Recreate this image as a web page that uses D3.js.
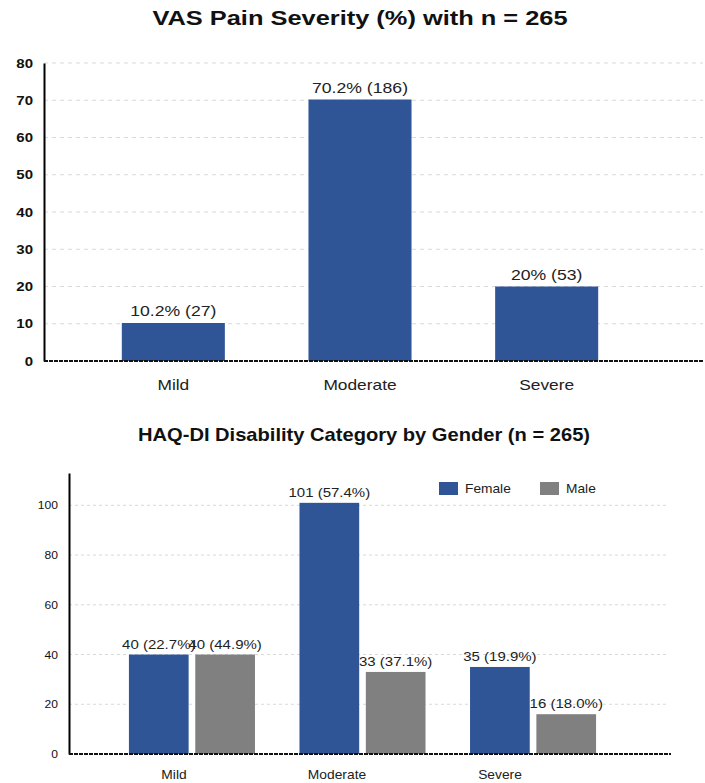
<!DOCTYPE html>
<html>
<head>
<meta charset="utf-8">
<script src="https://cdn.jsdelivr.net/npm/d3@7"></script>
<style>
  html, body { margin: 0; padding: 0; background: #fff; }
  svg { display: block; font-family: "Liberation Sans", Arial, Helvetica, sans-serif; }
</style>
</head>
<body>
<svg id="chart" width="705" height="783"></svg>
<script>
// ---- VAS pain severity (percent of n = 265) ----
const vasCategories = ["Mild", "Moderate", "Severe"];
const vasPercent = [10.2, 70.2, 20];
const vasCounts = [27, 186, 53];
const vasTicks = [0, 10, 20, 30, 40, 50, 60, 70, 80];

// ---- HAQ-DI disability category by gender ----
const haqCategories = ["Mild", "Moderate", "Severe"];
const haqGenders = ["Female", "Male"];
const haqFemale = [40, 101, 35];
const haqFemalePct = ["22.7%", "57.4%", "19.9%"];
const haqMale = [40, 33, 16];
const haqMalePct = ["44.9%", "37.1%", "18.0%"];
const haqTicks = [0, 20, 40, 60, 80, 100];
const haqMax = 113;

const BLUE = "#2f5597";
const GREY = "#808080";
const GRID = "#d9d9d9";

const svg = d3.select("#chart");

// Text in this layout is drawn slightly wide; sx widens glyphs about the anchor.
function label(g, x, y, text, opts) {
  const o = Object.assign({ size: 13, weight: "normal", anchor: "middle", sx: 1.2, fill: "#222" }, opts || {});
  return g.append("text")
    .attr("transform", `translate(${x},${y}) scale(${o.sx},1)`)
    .attr("text-anchor", o.anchor)
    .attr("font-size", o.size)
    .attr("font-weight", o.weight)
    .attr("fill", o.fill)
    .text(text);
}

// ================= Chart 1 =================
{
  const g = svg.append("g");
  const axisX = 44, right = 703;
  const y = d3.scaleLinear().domain([0, 80]).range([361, 63]);
  const x = d3.scaleBand().domain(vasCategories).range([80, 640])
    .paddingInner(0.448).paddingOuter(0.224);

  label(g, 360, 25, "VAS Pain Severity (%) with n = 265", { size: 20, weight: "bold", sx: 1.27, fill: "#111" });

  // gridlines
  g.selectAll("line.grid").data(vasTicks.filter(d => d > 0)).join("line")
    .attr("class", "grid")
    .attr("x1", axisX).attr("x2", right)
    .attr("y1", d => y(d)).attr("y2", d => y(d))
    .attr("stroke", GRID).attr("stroke-width", 1).attr("stroke-dasharray", "4,4");

  // bars
  g.selectAll("rect.bar").data(vasPercent).join("rect")
    .attr("class", "bar")
    .attr("x", (d, i) => x(vasCategories[i]))
    .attr("width", x.bandwidth())
    .attr("y", d => y(d))
    .attr("height", d => y(0) - y(d))
    .attr("fill", BLUE);

  // value labels
  vasPercent.forEach((d, i) => {
    label(g, x(vasCategories[i]) + x.bandwidth() / 2, y(d) - 7, `${d}% (${vasCounts[i]})`, { size: 14, sx: 1.26 });
  });

  // y axis
  const yAxis = d3.axisLeft(y).tickValues(vasTicks).tickSize(0).tickPadding(10);
  const ya = g.append("g").attr("transform", `translate(${axisX},0)`).call(yAxis);
  ya.select(".domain").attr("stroke", "#000").attr("stroke-width", 2);
  ya.selectAll(".tick text").each(function (d) {
    const ty = y(d);
    d3.select(this).remove();
    label(g, axisX - 11, ty + 4.5, d, { size: 12, weight: "bold", anchor: "end", sx: 1.25, fill: "#111" });
  });

  // baseline
  g.append("line").attr("x1", axisX).attr("x2", right)
    .attr("y1", y(0)).attr("y2", y(0))
    .attr("stroke", "#111").attr("stroke-width", 2).attr("stroke-dasharray", "4,1");

  // category labels
  vasCategories.forEach(c => {
    label(g, x(c) + x.bandwidth() / 2, 390, c, { size: 14, sx: 1.24 });
  });
}

// ================= Chart 2 =================
{
  const g = svg.append("g");
  const axisX = 69, right = 669;
  const y = d3.scaleLinear().domain([0, haqMax]).range([754, 473]);
  const x0 = d3.scaleBand().domain(haqCategories).range([106.75, 618.25])
    .paddingInner(0.261).paddingOuter(0.13);
  const x1 = d3.scaleBand().domain(haqGenders).range([0, x0.bandwidth()]).paddingInner(0.1);
  const color = d3.scaleOrdinal().domain(haqGenders).range([BLUE, GREY]);
  const xLabel = d3.scalePoint().domain(haqCategories).range([174, 500]);

  label(g, 364, 441, "HAQ-DI Disability Category by Gender (n = 265)", { size: 17.5, weight: "bold", sx: 1.15, fill: "#111" });

  g.selectAll("line.grid").data(haqTicks.filter(d => d > 0)).join("line")
    .attr("class", "grid")
    .attr("x1", axisX).attr("x2", right)
    .attr("y1", d => y(d)).attr("y2", d => y(d))
    .attr("stroke", GRID).attr("stroke-width", 1).attr("stroke-dasharray", "3,3");

  const rows = haqCategories.map((c, i) => ({
    cat: c,
    vals: [
      { gender: "Female", v: haqFemale[i], pct: haqFemalePct[i] },
      { gender: "Male", v: haqMale[i], pct: haqMalePct[i] }
    ]
  }));

  const grp = g.selectAll("g.cat").data(rows).join("g")
    .attr("class", "cat")
    .attr("transform", d => `translate(${x0(d.cat)},0)`);

  grp.selectAll("rect").data(d => d.vals).join("rect")
    .attr("x", d => x1(d.gender))
    .attr("width", x1.bandwidth())
    .attr("y", d => y(d.v))
    .attr("height", d => y(0) - y(d.v))
    .attr("fill", d => color(d.gender));

  rows.forEach(r => {
    r.vals.forEach(d => {
      label(g, x0(r.cat) + x1(d.gender) + x1.bandwidth() / 2, y(d.v) - 6, `${d.v} (${d.pct})`, { size: 12, sx: 1.25 });
    });
  });

  const yAxis = d3.axisLeft(y).tickValues(haqTicks).tickSize(0).tickPadding(10);
  const ya = g.append("g").attr("transform", `translate(${axisX},0)`).call(yAxis);
  ya.select(".domain").attr("stroke", "#000").attr("stroke-width", 2);
  ya.selectAll(".tick text").each(function (d) {
    const ty = y(d);
    d3.select(this).remove();
    label(g, axisX - 11, ty + 4, d, { size: 11, anchor: "end", sx: 1.1, fill: "#111" });
  });

  g.append("line").attr("x1", axisX).attr("x2", right + 2)
    .attr("y1", y(0)).attr("y2", y(0))
    .attr("stroke", "#111").attr("stroke-width", 2).attr("stroke-dasharray", "4,1");

  haqCategories.forEach(c => {
    label(g, xLabel(c), 779, c, { size: 12, sx: 1.15 });
  });

  // legend
  const leg = g.append("g");
  haqGenders.forEach((gname, i) => {
    const lx = 439 + i * 101;
    leg.append("rect").attr("x", lx).attr("y", 482).attr("width", 19).attr("height", 13).attr("fill", color(gname));
    label(leg, lx + 26, 493, gname, { size: 12.5, anchor: "start", sx: 1.1 });
  });
}
</script>
</body>
</html>
